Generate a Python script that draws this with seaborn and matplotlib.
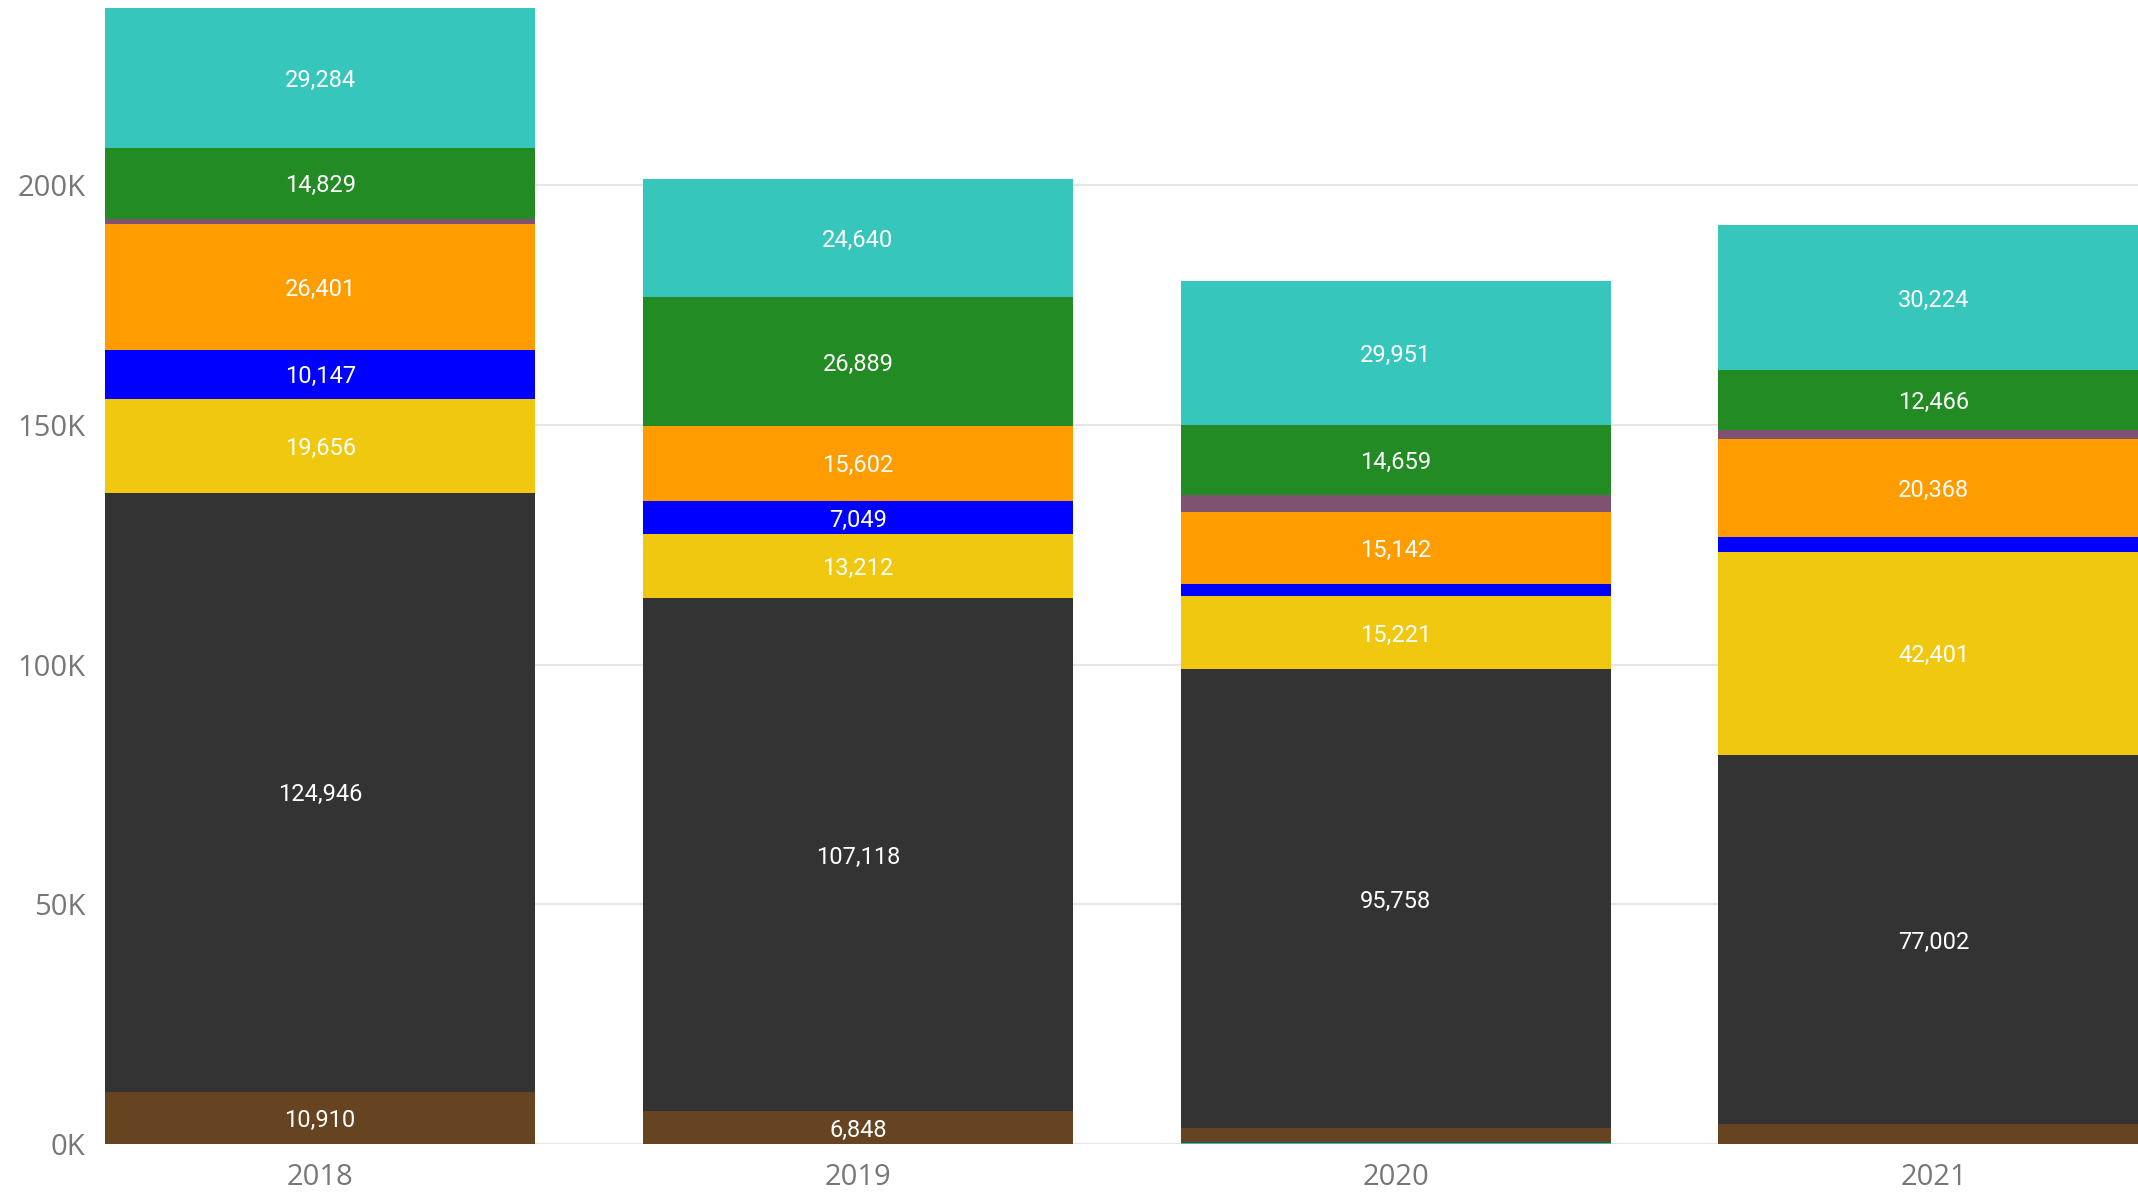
import numpy as np
import pandas as pd
import matplotlib
matplotlib.use("Agg")
import matplotlib.pyplot as plt
import seaborn as sns

# Categories and stacked series (bottom to top)
years = ["2018", "2019", "2020", "2021"]
series_names = ["Base", "Brown", "Dark", "Yellow", "Blue", "Orange", "Purple", "Green", "Teal"]
base_vals   = [0, 0, 200, 0]
brown_vals  = [10910, 6848, 3130, 4170]
dark_vals   = [124946, 107118, 95758, 77002]
yellow_vals = [19656, 13212, 15221, 42401]
blue_vals   = [10147, 7049, 2440, 3130]
orange_vals = [26401, 15602, 15142, 20368]
purple_vals = [950, 0, 3550, 1950]
green_vals  = [14829, 26889, 14659, 12466]
teal_vals   = [29284, 24640, 29951, 30224]

yticks = [0, 50000, 100000, 150000, 200000]
ytick_labels = ["0K", "50K", "100K", "150K", "200K"]

colors = ["#12C8C8", "#664422", "#333333", "#F0C80F", "#0000FF",
          "#FF9C00", "#7F5272", "#238B23", "#36C6BB"]

values = [base_vals, brown_vals, dark_vals, yellow_vals, blue_vals,
          orange_vals, purple_vals, green_vals, teal_vals]

df = pd.DataFrame({name: v for name, v in zip(series_names, values)}, index=years)
cum = df.cumsum(axis=1)

sns.set_theme(style="white")
plt.rcParams["font.family"] = ["Open Sans", "DejaVu Sans"]

fig = plt.figure(figsize=(21.38, 11.92), dpi=100)
ax = fig.add_axes([105 / 2138, 48 / 1192, 1 - 105 / 2138, 1 - 48 / 1192])

# Draw cumulative totals from the top layer down so each layer shows its own segment
for name, col in reversed(list(zip(series_names, colors))):
    sns.barplot(x=years, y=cum[name].values, color=col, saturation=1,
                width=0.8, ax=ax, zorder=3, edgecolor="none", linewidth=0)

# Segment value labels
label_font = ["Roboto", "DejaVu Sans"]
for i, yr in enumerate(years):
    for name in series_names:
        v = df.loc[yr, name]
        if v >= 5000:
            mid = cum.loc[yr, name] - v / 2
            ax.text(i, mid, f"{v:,}", ha="center", va="center_baseline", color="white",
                    fontsize=17, family=label_font, zorder=5)

ax.set_xlim(-0.4, 3.38)
ax.set_ylim(0, 238700)
ax.set_yticks(yticks)
ax.set_yticklabels(ytick_labels)
ax.yaxis.grid(True, color="#E6E6E6", linewidth=1.5, zorder=0)
ax.xaxis.grid(False)
ax.set_axisbelow(True)
for s in ax.spines.values():
    s.set_visible(False)
ax.tick_params(axis="y", length=0, pad=14, labelsize=21, labelcolor="#777777")
ax.tick_params(axis="x", length=0, pad=14, labelsize=21, labelcolor="#777777")
ax.set_xlabel("")
ax.set_ylabel("")

fig.savefig("out.png", dpi=100)
